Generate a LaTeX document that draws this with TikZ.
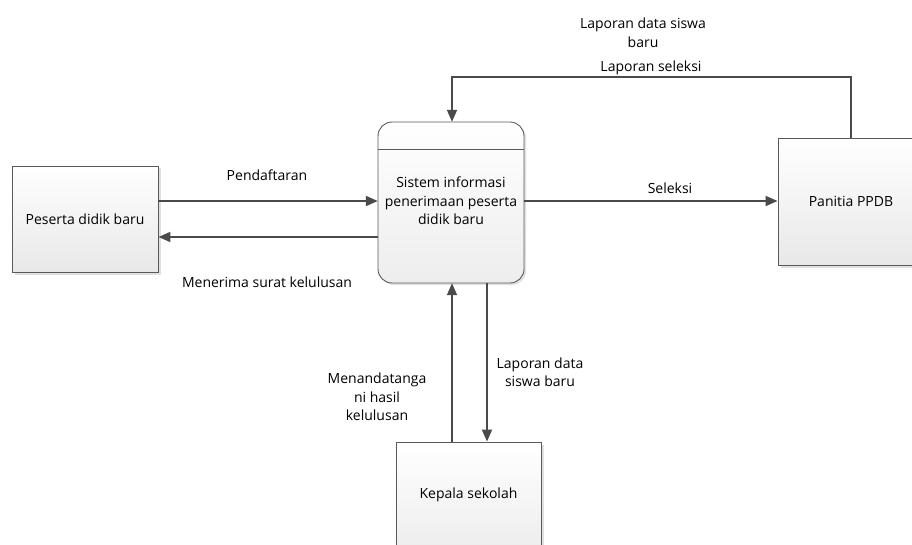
\documentclass[tikz,border=0pt]{standalone}
\usepackage{fontspec}
\setmainfont{Open Sans}
\usetikzlibrary{arrows.meta,shadows}
\definecolor{edgecol}{HTML}{4A4A4A}
\definecolor{boxline}{HTML}{5A5A5A}
\tikzset{
  ent/.style={draw=boxline,line width=0.9pt,top color=white,bottom color=black!9,
    drop shadow={shadow xshift=2.5pt,shadow yshift=-2.5pt,fill=black!12,opacity=1},
    inner sep=0pt,font=\fontsize{14}{18.5}\selectfont},
  proc/.style={draw=boxline,line width=0.9pt,rounded corners=14pt,top color=white,bottom color=black!7,
    drop shadow={shadow xshift=2pt,shadow yshift=-2pt,fill=black!12,opacity=1}},
  flow/.style={draw=edgecol,line width=1.8pt,-{Triangle[length=12pt,width=10pt]}},
  lbl/.style={font=\fontsize{14}{18.5}\selectfont,align=center,inner sep=0pt}
}
\begin{document}
\begin{tikzpicture}[x=1pt,y=-1pt]
\useasboundingbox (0,0) rectangle (912,545);
\clip (0,0) rectangle (912,545);
% entities
\node[ent,minimum width=146pt,minimum height=106pt] (ps) at (85,219) {Peserta didik baru};
\node[ent,minimum width=150pt,minimum height=127pt] (pan) at (853,201.5) {\hspace*{-4pt}Panitia PPDB};
\node[ent,minimum width=145pt,minimum height=140pt] (kp) at (468.5,512) {};
\node[lbl] at (468.5,495) {Kepala sekolah};
% process
\draw[proc] (378,122) rectangle (524,283);
\node[minimum width=146pt,minimum height=161pt,inner sep=0pt] (sis) at (451,202.5) {};
\draw[draw=boxline,line width=0.9pt] (378,149) -- (524,149);
\node[lbl] at (451,201) {Sistem informasi\\penerimaan peserta\\didik baru};
% connectors
\coordinate (c1) at (851,77);
\coordinate (c2) at (452,77);
\draw[flow] (pan.north -| c1) -- (c1) -- (c2) -- (sis.north -| c2);
\draw[flow] (ps.east |- 0,201) -- (sis.west |- 0,201);
\draw[flow] (sis.west |- 0,237) -- (ps.east |- 0,237);
\draw[flow] (sis.east |- 0,201) -- (pan.west |- 0,201);
\coordinate (u) at (452,0);
\coordinate (d) at (487,0);
\draw[flow] (kp.north -| u) -- (sis.south -| u);
\draw[flow] (sis.south -| d) -- (kp.north -| d);
% labels
\node[lbl] at (643,33) {Laporan data siswa\\baru};
\node[lbl] at (651,68) {Laporan seleksi};
\node[lbl] at (670,188) {Seleksi};
\node[lbl] at (267,175) {Pendaftaran};
\node[lbl] at (267,282) {Menerima surat kelulusan};
\node[lbl] at (377,397) {Menandatanga\\ni hasil\\kelulusan};
\node[lbl] at (540,372) {Laporan data\\siswa baru};
\end{tikzpicture}
\end{document}
